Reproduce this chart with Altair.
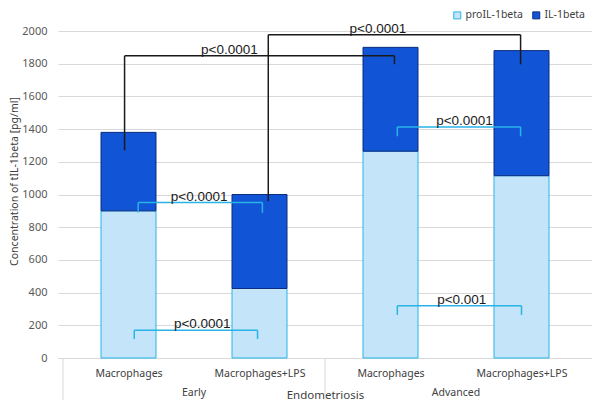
import json
import altair as alt
import pandas as pd

# ---- data ----
samples = ["Macrophages", "Macrophages+LPS", "Macrophages", "Macrophages+LPS"]
groups = ["Early", "Advanced"]
series = ["proIL-1beta", "IL-1beta"]
pro_vals = [900, 425, 1265, 1115]
il_vals = [480, 575, 635, 765]
y_ticks = [0, 200, 400, 600, 800, 1000, 1200, 1400, 1600, 1800, 2000]

# significance brackets (x in bar-index units, y in pg/ml)
br_x1 = [-0.03, 1.067, 0.074, 0.044, 2.052, 2.052]
br_x2 = [2.03, 2.993, 1.022, 0.985, 2.993, 3.0]
br_y = [1848, 1977, 951, 170, 1413, 319]
br_left_end = [1270, 959, 890, 117, 1356, 264]
br_right_end = [1797, 1796, 888, 117, 1356, 264]
br_color = ["#1a1a1a", "#1a1a1a", "#29b3e6", "#29b3e6", "#29b3e6", "#29b3e6"]
br_text = ["p<0.0001", "p<0.0001", "p<0.0001", "p<0.0001", "p<0.0001", "p<0.001"]
br_text_x = [0.77, 1.904, 0.539, 0.563, 2.565, 2.544]

W, H = 534, 327
XS = alt.Scale(domain=[-0.5, 3.5], nice=False, zero=False)
YS = alt.Scale(domain=[0, 2000], nice=False)
XT = "Endometriosis"
YT = "Concentration of tIL-1beta [pg/ml]"

label_expr = "%s[datum.value]" % json.dumps(samples)

XA = alt.Axis(values=[0, 1, 2, 3], labelExpr=label_expr, grid=False, labelOverlap=False,
              ticks=False, domain=True, domainColor="#d9d9d9",
              labelPadding=10, labelFont="Noto Sans", labelFontSize=10.5,
              labelColor="#404040", titleFont="Noto Sans", titleFontSize=11.5,
              titleFontWeight="normal", titleColor="#404040",
              titleY=37, titleBaseline="middle")
YA = alt.Axis(values=y_ticks, format="d", labelOverlap=False,
              grid=True, gridColor="#d9d9d9",
              domain=False, ticks=False, labelPadding=11,
              labelFont="Noto Sans", labelFontSize=11, labelColor="#595959",
              titleFont="Noto Sans", titleFontSize=10.5, titleFontWeight="normal",
              titleColor="#404040", titleX=-44, titleY=150,
              titleBaseline="middle", titleAlign="center")

rows = []
for i in range(len(samples)):
    rows.append({"pos": i, "series": series[0], "value": pro_vals[i], "order": 0})
    rows.append({"pos": i, "series": series[1], "value": il_vals[i], "order": 1})
bars_df = pd.DataFrame(rows)

seg = []
for k in range(len(br_y)):
    c = br_color[k]
    seg.append({"x1": br_x1[k], "x2": br_x2[k], "y1": br_y[k], "y2": br_y[k], "c": c})
    seg.append({"x1": br_x1[k], "x2": br_x1[k], "y1": br_y[k], "y2": br_left_end[k], "c": c})
    seg.append({"x1": br_x2[k], "x2": br_x2[k], "y1": br_y[k], "y2": br_right_end[k], "c": c})
seg_df = pd.DataFrame(seg)
txt_df = pd.DataFrame({"x": br_text_x, "y": br_y, "t": br_text})

grp_df = pd.DataFrame({"x": [0.5, 2.5], "t": groups})
div_df = pd.DataFrame({"x": [-0.5, 1.5]})

bars = alt.Chart(bars_df).mark_bar(width=55, strokeWidth=1).encode(
    x=alt.X("pos:Q", scale=XS, title=XT, axis=XA),
    y=alt.Y("value:Q", stack="zero", scale=YS, title=YT, axis=YA),
    order=alt.Order("order:Q"),
    fill=alt.Fill("series:N", scale=alt.Scale(domain=series, range=["#c3e4f9", "#1155d6"]),
                  legend=alt.Legend(title=None)),
    stroke=alt.Stroke("series:N", scale=alt.Scale(domain=series, range=["#27b4e8", "#0d2d7e"]),
                      legend=alt.Legend(title=None)),
)

rules = alt.Chart(seg_df).mark_rule(strokeWidth=1.5).encode(
    x=alt.X("x1:Q", scale=XS, title=XT, axis=XA), x2="x2:Q",
    y=alt.Y("y1:Q", scale=YS, title=YT, axis=YA), y2="y2:Q",
    color=alt.Color("c:N", scale=None),
)

ptext = alt.Chart(txt_df).mark_text(font="Liberation Sans", fontSize=13.5, baseline="alphabetic",
                                    dy=-2, color="#1a1a1a").encode(
    x=alt.X("x:Q", scale=XS, title=XT, axis=XA),
    y=alt.Y("y:Q", scale=YS, title=YT, axis=YA),
    text="t:N",
)

gtext = alt.Chart(grp_df).mark_text(font="Noto Sans", fontSize=10.5, baseline="middle",
                                    color="#404040").encode(
    x=alt.X("x:Q", scale=XS, title=XT, axis=XA),
    y=alt.value(H + 35),
    text="t:N",
)

dividers = alt.Chart(div_df).mark_rule(color="#d9d9d9", strokeWidth=1).encode(
    x=alt.X("x:Q", scale=XS, title=XT, axis=XA),
    y=alt.value(H),
    y2=alt.value(H + 42),
)

chart = alt.layer(bars, dividers, rules, ptext, gtext).properties(
    width=W, height=H,
    autosize=alt.AutoSizeParams(type="none"),
    padding={"left": 50, "top": 23, "right": 0, "bottom": 42},
).configure_view(stroke=None).configure_axisY(
    labelOverlap=False
).configure_legend(
    orient="none", legendX=394, legendY=-21, direction="horizontal",
    symbolType="square", symbolSize=49, symbolStrokeWidth=1,
    labelFont="Noto Sans", labelFontSize=10.5, labelColor="#404040",
    columnPadding=7, labelOffset=3,
)

chart.save("out.html", embed_options={"renderer": "svg", "actions": False})
